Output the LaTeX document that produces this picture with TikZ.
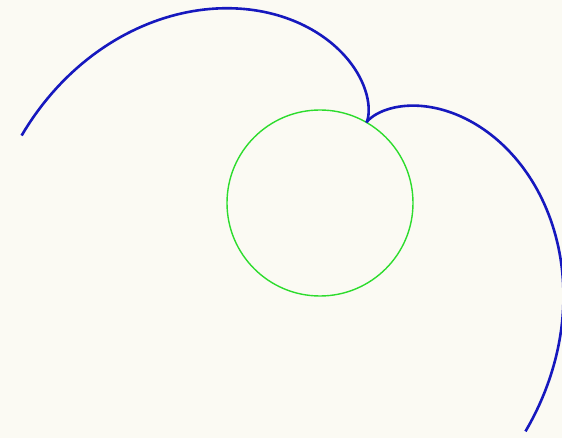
\documentclass[tikz,border=0pt]{standalone}
\usepackage{tikz}
\definecolor{papier}{RGB}{251, 250, 243}
\definecolor{bleu}{RGB}{22, 24, 190}
\definecolor{vert}{RGB}{45, 220, 45}
\newcommand{\cx}{320}
\newcommand{\cy}{203}
\newcommand{\rr}{93}

\begin{document}
\begin{tikzpicture}[
  x=1pt, y=-1pt,
  cercle/.style={draw=vert, line width=1.4pt},
  developpante/.style={draw=bleu, line width=2.6pt, line join=round}
]
\fill[papier] (0,0) rectangle (562,438);
\useasboundingbox (0,0) rectangle (562,438);
\clip (0,0) rectangle (562,438);
% Cercle de base
\draw[cercle] (\cx,\cy) circle[radius=\rr];
% Développantes depuis le point de rebroussement
\draw[developpante] plot[domain=0:3.135, samples=120, variable=\t]
  ({\cx+\rr*(cos(60+deg(\t))+\t*sin(60+deg(\t)))}, {\cy-\rr*(sin(60+deg(\t))-\t*cos(60+deg(\t)))});
\draw[developpante] plot[domain=0:3.15, samples=120, variable=\t]
  ({\cx+\rr*(cos(60-deg(\t))-\t*sin(60-deg(\t)))}, {\cy-\rr*(sin(60-deg(\t))+\t*cos(60-deg(\t)))});
\end{tikzpicture}
\end{document}
